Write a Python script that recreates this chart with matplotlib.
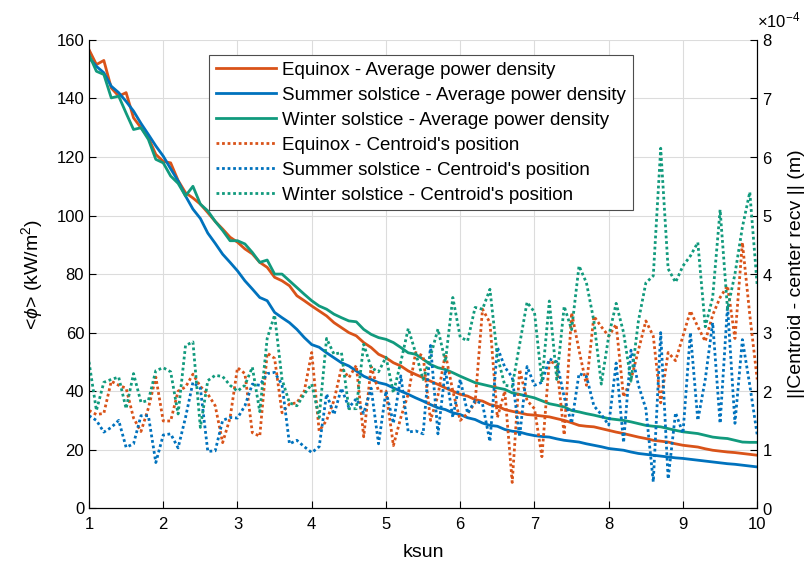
import numpy as np
import matplotlib
matplotlib.use('Agg')
import matplotlib.pyplot as plt
from matplotlib.ticker import ScalarFormatter

plt.rcParams['font.family'] = ['Liberation Sans', 'DejaVu Sans']
plt.rcParams['mathtext.fontset'] = 'custom'
plt.rcParams['mathtext.rm'] = 'Liberation Sans'
plt.rcParams['mathtext.it'] = 'Liberation Sans:italic'

ksun = np.round(np.linspace(1, 10, 91), 1)

# Average power density (kW/m^2), left axis
power_equinox = [
    156.7, 151.6, 153.0, 143.6, 140.8, 142.0, 133.4, 130.0, 126.6, 120.9,
    118.5, 118.0, 112.0, 107.8, 106.0, 103.9, 101.0, 98.0, 95.4, 92.6,
    90.9, 88.6, 86.9, 84.0, 82.3, 78.9, 77.7, 76.0, 72.6, 70.9,
    69.1, 67.4, 65.7, 63.4, 61.7, 60.0, 58.9, 56.6, 54.9, 52.6,
    51.4, 49.7, 48.6, 46.9, 45.7, 44.6, 43.4, 42.3, 41.1, 40.0,
    38.9, 38.3, 37.1, 36.6, 35.4, 34.9, 33.7, 33.1, 32.6, 32.0,
    31.8, 31.5, 31.2, 30.6, 30.0, 29.2, 28.3, 28.0, 27.8, 27.2,
    26.6, 26.0, 25.5, 24.9, 24.3, 23.8, 23.2, 22.9, 22.6, 22.0,
    21.5, 21.2, 20.9, 20.3, 19.8, 19.5, 19.2, 19.0, 18.7, 18.4,
    18.1]
power_summer = [
    154.0, 151.0, 148.8, 144.2, 142.0, 139.0, 135.7, 131.5, 127.7, 123.8,
    120.3, 116.0, 111.8, 106.7, 102.2, 99.0, 94.0, 90.5, 86.8, 84.0,
    81.1, 77.7, 74.9, 72.0, 70.9, 66.9, 65.1, 63.4, 61.1, 58.3,
    55.9, 55.0, 53.1, 51.4, 49.7, 48.6, 46.9, 45.1, 44.0, 42.9,
    42.3, 41.1, 40.0, 38.9, 37.7, 36.6, 35.4, 34.3, 33.7, 32.6,
    32.0, 30.9, 30.3, 29.1, 28.3, 28.0, 26.9, 26.3, 26.0, 25.3,
    24.8, 24.5, 24.3, 23.7, 23.2, 22.9, 22.6, 22.0, 21.5, 21.0,
    20.4, 20.1, 19.8, 19.2, 18.7, 18.4, 18.1, 17.8, 17.5, 17.2,
    17.0, 16.7, 16.4, 16.1, 15.8, 15.5, 15.2, 15.0, 14.7, 14.4,
    14.1]
power_winter = [
    155.0, 149.3, 148.2, 140.2, 140.8, 135.0, 129.4, 130.0, 126.0, 119.2,
    118.0, 113.5, 111.0, 106.7, 110.0, 103.9, 101.6, 98.0, 94.9, 91.4,
    91.4, 90.3, 87.4, 84.0, 84.8, 80.0, 80.0, 77.7, 75.4, 73.1,
    70.9, 69.1, 68.0, 66.3, 65.1, 64.0, 63.7, 61.1, 59.4, 58.3,
    57.7, 56.6, 54.9, 53.1, 52.6, 50.9, 49.1, 48.0, 47.4, 46.3,
    45.1, 44.0, 42.9, 42.3, 41.7, 41.1, 40.6, 39.4, 38.9, 38.3,
    37.7, 36.7, 35.7, 35.2, 34.6, 33.4, 32.9, 32.3, 31.8, 31.2,
    30.6, 30.3, 30.0, 29.5, 28.9, 28.3, 28.0, 27.8, 27.2, 26.6,
    26.1, 25.8, 25.5, 24.9, 24.3, 24.0, 23.8, 23.2, 22.6, 22.5,
    22.5]

# Centroid distance from receiver centre, in units of 1e-4 m (right axis)
centroid_equinox = [
    1.67, 1.60, 1.62, 2.17, 2.10, 2.05, 1.54, 1.31, 1.71, 2.24,
    1.49, 1.49, 2.00, 2.07, 2.29, 2.08, 1.95, 1.75, 1.12, 1.54,
    2.40, 2.30, 1.29, 1.23, 2.65, 2.56, 1.63, 1.78, 1.80, 2.00,
    2.66, 1.32, 1.50, 1.84, 2.40, 2.23, 2.44, 1.22, 2.42, 2.00,
    2.00, 1.07, 1.55, 1.95, 2.66, 2.60, 1.50, 1.93, 2.64, 2.00,
    1.50, 1.62, 1.80, 3.40, 3.17, 1.55, 2.00, 0.44, 2.37, 1.84,
    1.70, 0.88, 2.52, 2.45, 1.25, 3.34, 2.70, 2.10, 3.28, 3.10,
    2.94, 3.14, 1.90, 2.20, 2.70, 3.20, 2.94, 1.80, 2.66, 2.52,
    2.94, 3.37, 3.10, 2.85, 3.30, 3.60, 3.80, 2.90, 4.54, 3.30,
    2.20]
centroid_summer = [
    1.58, 1.50, 1.30, 1.38, 1.50, 1.04, 1.10, 1.58, 1.58, 0.78,
    1.25, 1.27, 1.03, 1.55, 2.15, 2.05, 0.97, 0.98, 1.50, 1.55,
    1.54, 1.75, 2.12, 2.10, 2.30, 2.32, 2.11, 1.10, 1.16, 1.05,
    0.95, 1.05, 1.95, 1.60, 2.05, 1.72, 1.87, 1.62, 2.05, 1.10,
    2.00, 1.45, 2.26, 1.30, 1.32, 1.27, 2.78, 1.27, 2.36, 1.55,
    2.20, 1.62, 1.84, 1.78, 1.14, 2.75, 2.41, 2.24, 1.22, 2.42,
    2.10, 2.15, 2.55, 2.50, 1.90, 1.45, 2.30, 2.25, 1.75, 1.60,
    1.42, 2.48, 1.12, 2.70, 2.10, 1.70, 0.45, 3.00, 0.50, 1.63,
    1.28, 3.00, 1.50, 2.20, 3.17, 1.45, 3.46, 1.45, 2.88, 2.10,
    1.25]
centroid_winter = [
    2.50, 1.67, 2.15, 2.20, 2.24, 1.70, 2.30, 1.81, 1.84, 2.35,
    2.40, 2.33, 1.61, 2.78, 2.84, 1.38, 2.18, 2.27, 2.25, 2.10,
    2.00, 2.10, 2.41, 1.65, 2.90, 3.30, 2.20, 1.80, 1.75, 1.95,
    2.12, 1.55, 2.90, 2.63, 2.66, 1.70, 1.70, 2.80, 2.40, 2.33,
    2.58, 1.97, 2.50, 3.07, 2.65, 2.20, 2.60, 3.06, 2.50, 3.60,
    2.92, 2.86, 3.43, 3.40, 3.74, 2.60, 2.10, 2.08, 2.80, 3.52,
    3.35, 2.15, 3.54, 2.20, 3.45, 3.05, 4.14, 3.85, 3.20, 2.12,
    2.94, 3.50, 3.00, 2.17, 3.20, 3.85, 3.97, 6.15, 4.09, 3.86,
    4.14, 4.31, 4.54, 3.10, 3.60, 5.10, 3.40, 4.00, 4.80, 5.40,
    3.80]

red = '#D95319'
blue = '#0072BD'
green = '#119A7D'

fig = plt.figure(figsize=(8.09, 5.71), dpi=100)
ax = fig.add_axes([0.110, 0.110, 0.826, 0.820])
ax2 = ax.twinx()

l1, = ax.plot(ksun, power_equinox, color=red, lw=2, label='Equinox - Average power density')
l2, = ax.plot(ksun, power_summer, color=blue, lw=2, label='Summer solstice - Average power density')
l3, = ax.plot(ksun, power_winter, color=green, lw=2, label='Winter solstice - Average power density')

scale = 1e-4
d1, = ax2.plot(ksun, np.array(centroid_equinox) * scale, color=red, lw=2, ls=(0, (1, 1)),
               label="Equinox - Centroid's position")
d2, = ax2.plot(ksun, np.array(centroid_summer) * scale, color=blue, lw=2, ls=(0, (1, 1)),
               label="Summer solstice - Centroid's position")
d3, = ax2.plot(ksun, np.array(centroid_winter) * scale, color=green, lw=2, ls=(0, (1, 1)),
               label="Winter solstice - Centroid's position")

ax.set_xlim(1, 10)
ax.set_ylim(0, 160)
ax.set_xticks(range(1, 11))
ax.set_yticks(range(0, 161, 20))
ax2.set_ylim(0, 8e-4)
ax2.set_yticks(np.arange(0, 9) * 1e-4)

fmt = ScalarFormatter(useMathText=True)
fmt.set_powerlimits((-3, 3))
ax2.yaxis.set_major_formatter(fmt)
ax2.yaxis.get_offset_text().set_visible(False)
fig.text(0.936, 0.965, r'$\times10^{-4}$', fontsize=12, ha='left', va='center')

ax.grid(True, color='#DCDCDC', lw=0.8)
ax.set_axisbelow(True)

for a in (ax, ax2):
    a.tick_params(direction='in', length=5, width=0.8, labelsize=12, colors='black')
    a.spines['top'].set_visible(False)
    for s in a.spines.values():
        s.set_linewidth(0.8)
ax.tick_params(axis='y', right=False)
ax.tick_params(axis='x', pad=6)

ax.set_xlabel('ksun', fontsize=14, labelpad=9)
ax.set_ylabel(r'<$\phi$> (kW/m$^2$)', fontsize=14, labelpad=8)
ax2.set_ylabel('||Centroid - center recv || (m)', fontsize=14, labelpad=11)

leg = ax2.legend(handles=[l1, l2, l3, d1, d2, d3], loc='upper left',
                 bbox_to_anchor=(0.18, 0.968), borderaxespad=0, fontsize=13.5,
                 fancybox=False, framealpha=1, edgecolor='#4D4D4D',
                 handlelength=3.2, borderpad=0.35, labelspacing=0.42,
                 handletextpad=0.35)
leg.get_frame().set_linewidth(0.8)

fig.savefig('out.png', dpi=100)
